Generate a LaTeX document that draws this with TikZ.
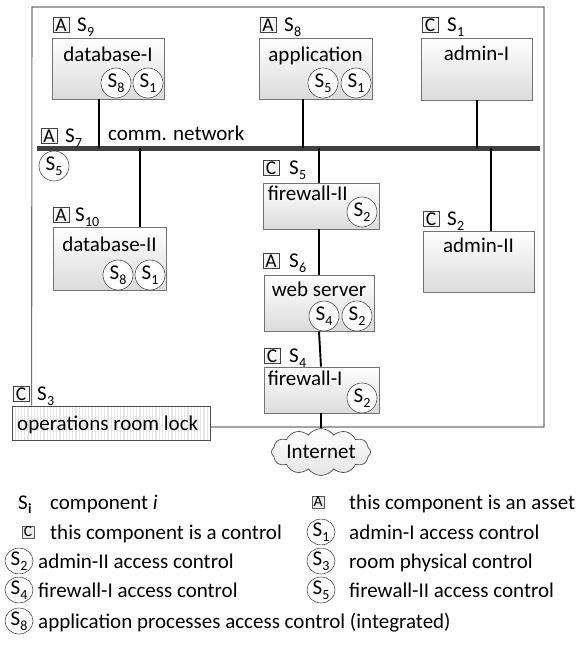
\documentclass[tikz,border=0pt]{standalone}
\usepackage{fontspec}
\setmainfont{Carlito}
\usetikzlibrary{shapes.geometric,shapes.symbols}

% component name S with a lowered index
\newcommand\Sn[1]{S\kern0.2pt\raisebox{-0.22em}{\fontsize{14}{14}\selectfont #1}}

\begin{document}
\begin{tikzpicture}[x=1pt,y=-1pt,font=\fontsize{21}{25}\selectfont,
  comp/.style={draw=black!55, line width=0.8pt, top color=white, bottom color=black!14, inner sep=0pt},
  ctl/.style={circle, draw=black!70, fill=white, line width=0.6pt, minimum size=30pt, inner sep=0pt},
  lgctl/.style={ellipse, draw=black!70, fill=white, line width=0.6pt, minimum width=28pt, minimum height=24pt, inner sep=0pt},
  tag/.style={draw=black!75, fill=black!3, line width=0.6pt, minimum width=16pt, minimum height=15pt, inner sep=0pt, font=\fontsize{19.5}{19.5}\selectfont},
  lgtag/.style={draw=black!65, fill=black!8, line width=0.6pt, minimum width=12pt, minimum height=12pt, inner sep=0pt, font=\fontsize{15.5}{15.5}\selectfont},
  lbl/.style={anchor=base west, inner sep=0pt},
  title/.style={anchor=base, inner sep=0pt},
  link/.style={line width=1.9pt, black},
  room/.style={line width=1.1pt, black!55}]
\useasboundingbox (0,0) rectangle (579,648);

% operations room lock (striped)
\node[draw=black!70, line width=0.8pt, fill=white, minimum width=198pt, minimum height=34pt, inner sep=0pt,
  path picture={\foreach \k in {0,3.2,...,200}
    \draw[black!11, line width=1.2pt] ([xshift=\k pt]path picture bounding box.south west) -- ([xshift=\k pt]path picture bounding box.north west);}]
  (lock) at (111,423) {};
\node[anchor=base west, inner sep=0pt] (locktxt) at (17,430) {operations room lock};
\node[tag] (t3) at (21,394) {C};
\node[lbl] (l3) at (37,400.5) {\Sn{3}};

% room boundary
\coordinate (roomse) at (544,427);
\draw[room] ([xshift=20pt]lock.north west) -- (32,7) -- (544,7) -- (roomse) -- (lock.east |- roomse);

% communication network
\node[fill=black!75, minimum width=503pt, minimum height=5pt, inner sep=0pt] (net) at (288.5,148) {};
\node[tag] (t7) at (49,136) {A};
\node[lbl] (l7) at (65,142.5) {\Sn{7}};
\node[lbl] (nettxt) at (108,140) {comm. network};
\node[ctl] (n5) at (54,166) {\Sn{5}};

% database-I
\node[comp, minimum width=112pt, minimum height=61pt] (db1) at (108,68.5) {};
\node[title] (db1t) at ([yshift=-24pt]db1.north) {database-I};
\node[ctl] (db1a) at (116,83) {\Sn{8}};
\node[ctl] (db1b) at (148,83) {\Sn{1}};
\node[tag] (t9) at (61,25) {A};
\node[lbl] (l9) at (77,31.5) {\Sn{9}};

% application
\node[comp, minimum width=113pt, minimum height=61pt] (app) at (315.5,68.5) {};
\node[title] (appt) at ([yshift=-24pt]app.north) {application};
\node[ctl] (appa) at (323,83) {\Sn{5}};
\node[ctl] (appb) at (356,83) {\Sn{1}};
\node[tag] (t8) at (268,25) {A};
\node[lbl] (l8) at (284,31.5) {\Sn{8}};

% admin-I
\node[comp, minimum width=111pt, minimum height=62pt] (adm1) at (476.5,69) {};
\node[title] (adm1t) at ([yshift=-23pt]adm1.north) {admin-I};
\node[tag] (t1) at (430,25) {C};
\node[lbl] (l1) at (447,31.5) {\Sn{1}};

% database-II
\node[comp, minimum width=113pt, minimum height=63pt] (db2) at (109.5,258.5) {};
\node[title] (db2t) at ([yshift=-25pt]db2.north) {database-II};
\node[ctl] (db2a) at (118,275) {\Sn{8}};
\node[ctl] (db2b) at (150,275) {\Sn{1}};
\node[tag] (t10) at (61,215) {A};
\node[lbl] (l10) at (75,221.5) {\Sn{10}};

% firewall-II
\node[comp, minimum width=116pt, minimum height=46pt] (fw2) at (321,206) {};
\node[lbl] (fw2t) at ([xshift=5pt,yshift=-18pt]fw2.north west) {firewall-II};
\node[ctl] (fw2a) at (362,212) {\Sn{2}};
\node[tag] (t5) at (271,168) {C};
\node[lbl] (l5) at (289,174.5) {\Sn{5}};

% web server
\node[comp, minimum width=110pt, minimum height=56pt] (ws) at (319,303) {};
\node[title] (wst) at ([yshift=-22pt]ws.north) {web server};
\node[ctl] (wsa) at (324,316) {\Sn{4}};
\node[ctl] (wsb) at (357,316) {\Sn{2}};
\node[tag] (t6) at (271,261) {A};
\node[lbl] (l6) at (289,267.5) {\Sn{6}};

% firewall-I
\node[comp, minimum width=115pt, minimum height=46pt] (fw1) at (321.5,390) {};
\node[lbl] (fw1t) at ([xshift=4pt,yshift=-19pt]fw1.north west) {firewall-I};
\node[ctl] (fw1a) at (362,398) {\Sn{2}};
\node[tag] (t4) at (272,356) {C};
\node[lbl] (l4) at (289,362.5) {\Sn{4}};

% admin-II
\node[comp, minimum width=111pt, minimum height=61pt] (adm2) at (478.5,261.5) {};
\node[title] (adm2t) at ([yshift=-22pt]adm2.north) {admin-II};
\node[tag] (t2) at (431,219) {C};
\node[lbl] (l2) at (447,225.5) {\Sn{2}};

% Internet
\node[cloud, cloud puffs=12, cloud puff arc=110, aspect=2.8, draw=black!70, line width=0.7pt,
  top color=white, bottom color=black!10, minimum width=95pt, minimum height=36pt, inner sep=0pt]
  (inet) at (321,452) {Internet};

% connections
\draw[link] ([xshift=-9pt]db1.south) -- ([xshift=-9pt]db1.south |- net.center);
\draw[link] ([xshift=-12.5pt]app.south) -- ([xshift=-12.5pt]app.south |- net.center);
\draw[link] ([xshift=0.5pt]adm1.south) -- ([xshift=0.5pt]adm1.south |- net.center);
\draw[link] ([xshift=30.5pt]db2.north |- net.center) -- ([xshift=30.5pt]db2.north);
\draw[link] ([xshift=-2pt]fw2.north |- net.center) -- ([xshift=-2pt]fw2.north);
\draw[link] ([xshift=12.5pt]adm2.north |- net.center) -- ([xshift=12.5pt]adm2.north);
\draw[link] ([xshift=-2pt]fw2.south) -- (ws.north);
\draw[link] (ws.south) -- ([xshift=-0.5pt]fw1.north);
\draw[link] ([xshift=-0.5pt]fw1.south) -- (inet.north);

% legend
\node[lbl] (lgS) at (18,509) {S\kern0.2pt\raisebox{-0.22em}{\fontsize{14}{14}\selectfont\bfseries i}};
\node[lbl] (lgSt) at (50,509) {component \textit{i}};
\node[lgtag] (lgC) at (28,532) {C};
\node[lbl] (lgCt) at (50,539) {this component is a control};
\node[lgctl] (lg2) at (19,561) {\Sn{2}};
\node[lbl] (lg2t) at (38,568) {admin-II access control};
\node[lgctl] (lg4) at (19,590) {\Sn{4}};
\node[lbl] (lg4t) at (38,597) {firewall-I access control};
\node[lgctl] (lg8) at (19,621) {\Sn{8}};
\node[lbl] (lg8t) at (38,628) {application processes access control (integrated)};
\node[lgtag] (lgA) at (318,502) {A};
\node[lbl] (lgAt) at (349,509) {this component is an asset};
\node[lgctl] (lg1) at (321,532) {\Sn{1}};
\node[lbl] (lg1t) at (349,539) {admin-I access control};
\node[lgctl] (lg3) at (321,561) {\Sn{3}};
\node[lbl] (lg3t) at (349,568) {room physical control};
\node[lgctl] (lg5) at (321,590) {\Sn{5}};
\node[lbl] (lg5t) at (349,597) {firewall-II access control};
\end{tikzpicture}
\end{document}
